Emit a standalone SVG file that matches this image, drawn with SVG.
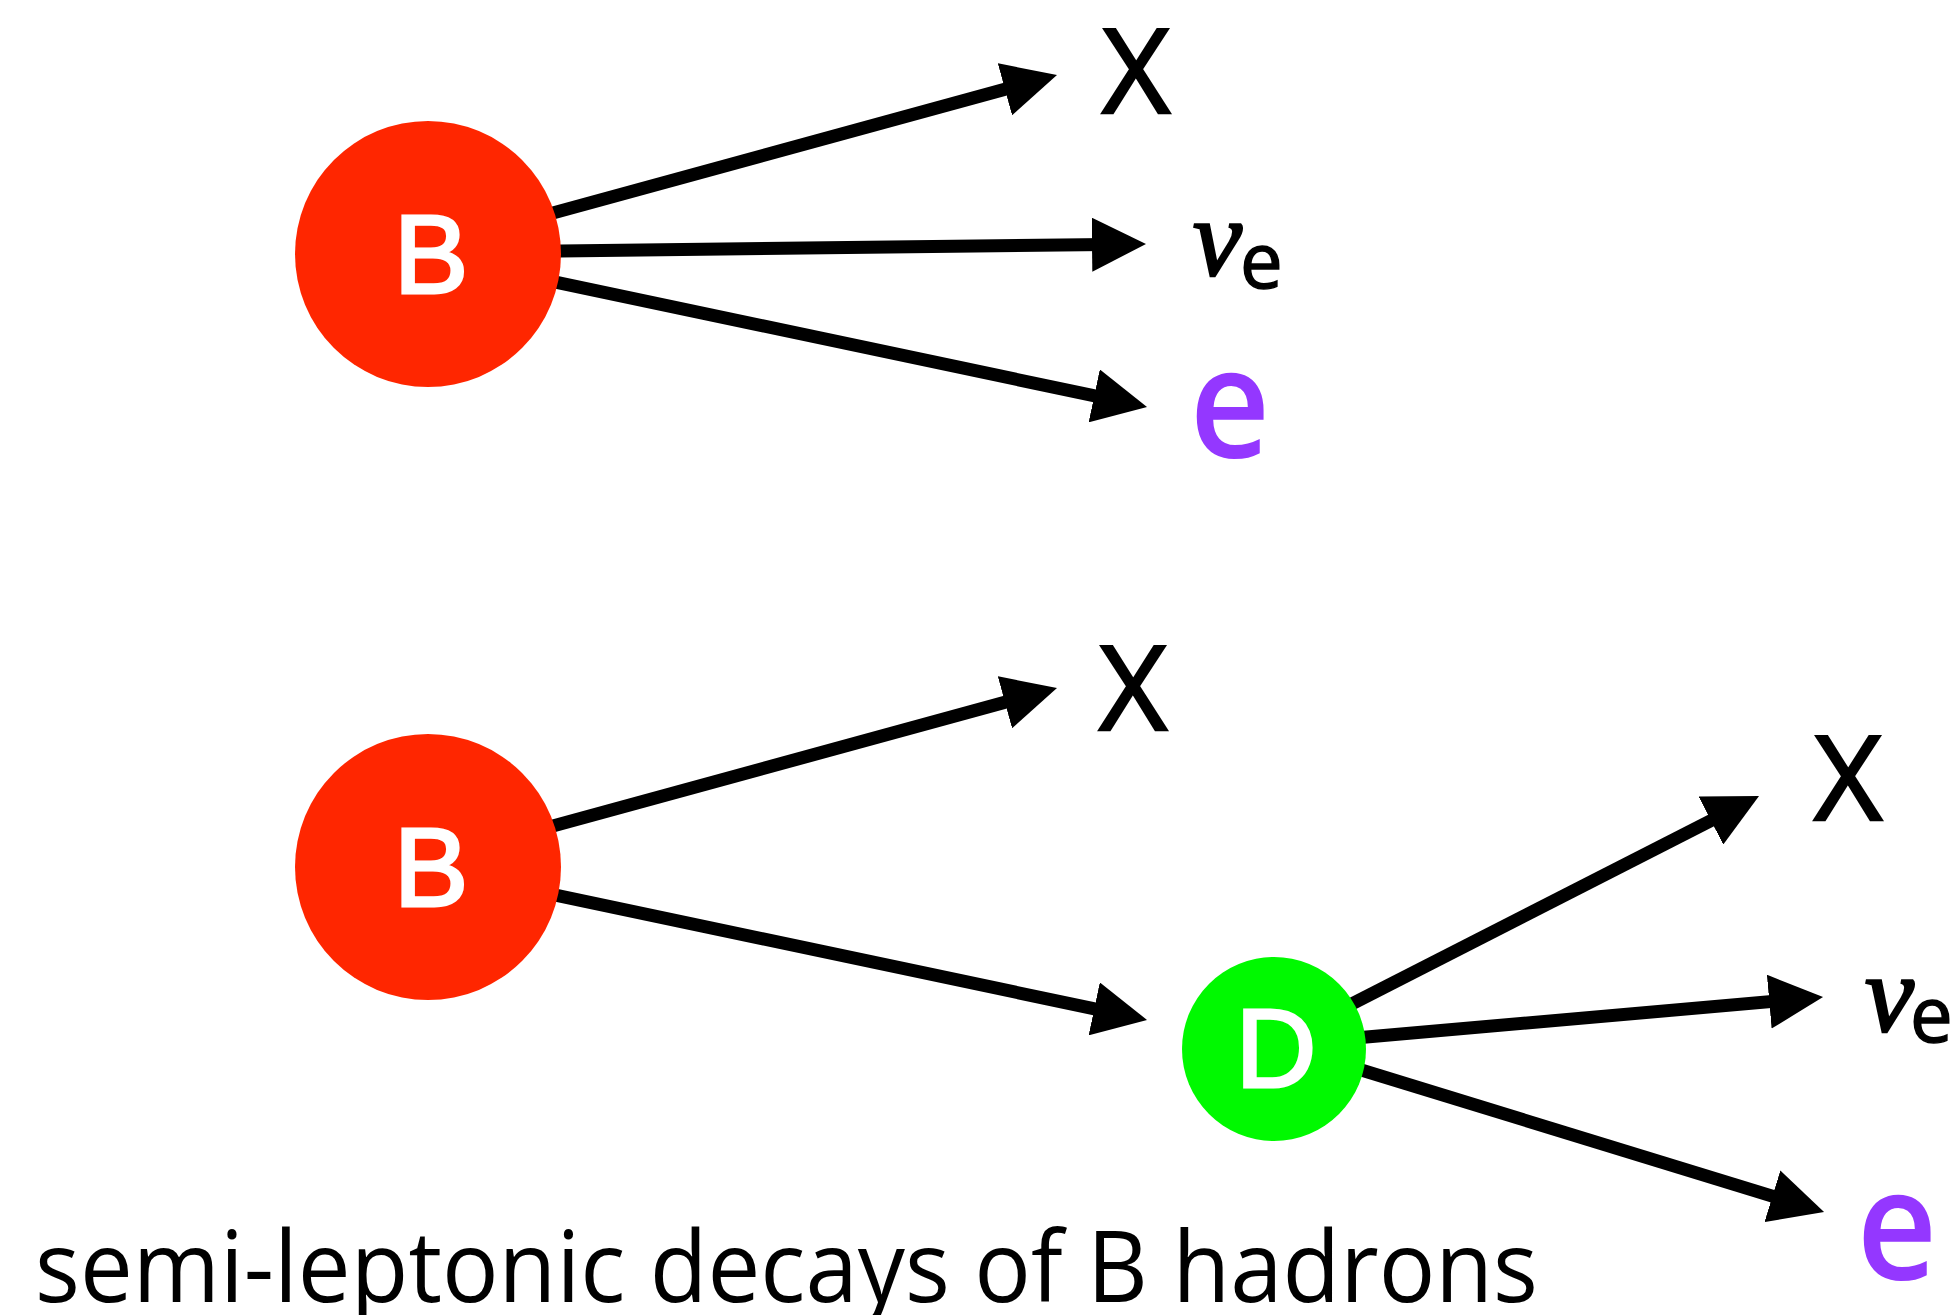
<svg xmlns="http://www.w3.org/2000/svg" width="1957" height="1315" viewBox="0 0 1957 1315">
<style>
.conn{stroke:#000;stroke-width:13;fill:none;marker-end:url(#ah)}
.node-b{fill:#FF2600}
.node-d{fill:#00F900}
.nlabel{font-family:"Liberation Sans",Arial,sans-serif;font-size:112px;fill:#fff;stroke:#fff;stroke-width:3;text-anchor:middle}
.x{font-family:"Open Sans","Noto Sans",sans-serif;font-size:118px;fill:#000;stroke:#000;stroke-width:2.5;text-anchor:middle}
.nu{font-family:"Liberation Serif","DejaVu Serif",serif;font-style:italic;font-size:110px;fill:#000;stroke:#000;stroke-width:2.5}
.sub{font-family:"Open Sans","Noto Sans",sans-serif;font-size:76px;fill:#000;stroke:#000;stroke-width:1.5}
.el{font-family:"Open Sans","Noto Sans",sans-serif;font-weight:600;font-size:155px;fill:#9437FF;text-anchor:middle}
.cap{font-family:"Open Sans","Noto Sans",sans-serif;font-size:99px;fill:#000}
</style>
<defs>
<marker id="ah" markerUnits="userSpaceOnUse" viewBox="0 0 54 54" markerWidth="54" markerHeight="54" refX="14" refY="27" orient="auto">
<path d="M0,0 L54,27 L0,54 z" fill="#000"/>
</marker>
</defs>
<rect width="1957" height="1315" fill="#fff"/>
<g id="connectors">
<line class="conn" x1="533.7" y1="218.3" x2="1018.4" y2="85.6"/>
<line class="conn" x1="540" y1="251.2" x2="1106" y2="244.5"/>
<line class="conn" x1="535.4" y1="277.9" x2="1107.9" y2="398.7"/>
<line class="conn" x1="533.7" y1="831.3" x2="1018.4" y2="698.6"/>
<line class="conn" x1="535.4" y1="890.9" x2="1107.9" y2="1011.7"/>
<line class="conn" x1="1335" y1="1012.5" x2="1723.4" y2="814.2"/>
<line class="conn" x1="1346.7" y1="1038.7" x2="1783.2" y2="1000.5"/>
<line class="conn" x1="1345" y1="1065" x2="1785.8" y2="1200.3"/>
</g>
<g id="node-B1">
<circle class="node-b" cx="428" cy="254" r="133"/>
<text class="nlabel" x="431" y="293">B</text>
</g>
<g id="node-B2">
<circle class="node-b" cx="428" cy="867" r="133"/>
<text class="nlabel" x="431" y="906">B</text>
</g>
<g id="node-D">
<circle class="node-d" cx="1274" cy="1049" r="92"/>
<text class="nlabel" x="1276" y="1087">D</text>
</g>
<g id="label-X1"><text class="x" x="1136" y="113">X</text></g>
<g id="label-nu1"><text class="nu" x="1193" y="275">ν</text><text class="sub" x="1240" y="288">e</text></g>
<g id="label-e1"><text class="el" x="1230" y="458" transform="translate(1230 0) scale(0.9 1) translate(-1230 0)">e</text></g>
<g id="label-X2"><text class="x" x="1133" y="730">X</text></g>
<g id="label-X3"><text class="x" x="1848" y="820">X</text></g>
<g id="label-nu2"><text class="nu" x="1865" y="1031">ν</text><text class="sub" x="1910" y="1042">e</text></g>
<g id="label-e2"><text class="el" x="1897" y="1280" transform="translate(1897 0) scale(0.9 1) translate(-1897 0)">e</text></g>
<g id="caption"><text class="cap" x="35" y="1302" textLength="1503" lengthAdjust="spacingAndGlyphs">semi-leptonic decays of B hadrons</text></g>
</svg>
